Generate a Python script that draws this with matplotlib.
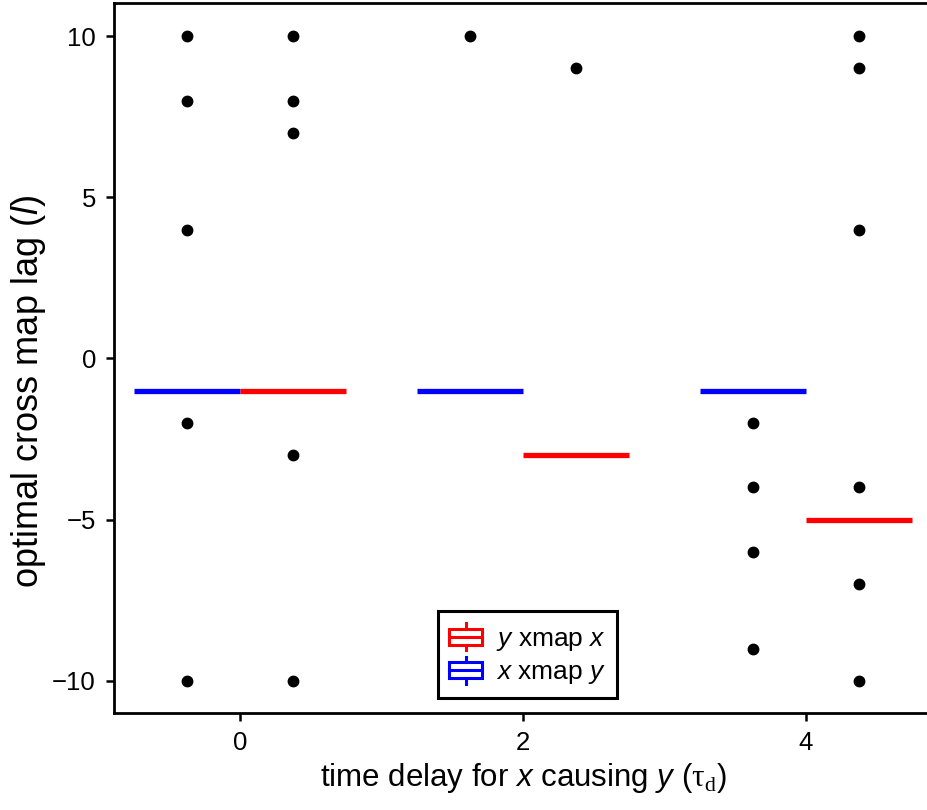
import matplotlib
matplotlib.use("Agg")
import matplotlib.pyplot as plt
from matplotlib.legend_handler import HandlerBase
from matplotlib.patches import Rectangle
from matplotlib.lines import Line2D

plt.rcParams['font.family'] = ['Liberation Sans', 'DejaVu Sans']
plt.rcParams['mathtext.fontset'] = 'custom'
plt.rcParams['mathtext.it'] = 'Liberation Sans:italic'
plt.rcParams['mathtext.rm'] = 'Liberation Serif'
plt.rcParams['mathtext.sf'] = 'Liberation Sans'

# data
taus = [0, 2, 4]
xy_median = [-1, -1, -1]          # x xmap y (blue)
yx_median = [-1, -3, -5]          # y xmap x (red)
xy_outliers = [[10, 8, 4, -2, -10], [10], [-2, -4, -6, -9]]
yx_outliers = [[10, 8, 7, -3, -10], [9], [10, 9, 4, -4, -7, -10]]

off = 0.375   # half a group slot
bw = 0.75     # box width


class BoxHandler(HandlerBase):  # little boxplot glyph for the legend
    def create_artists(self, legend, orig_handle, xdescent, ydescent,
                       width, height, fontsize, trans):
        c = orig_handle.get_color()
        x0, y0 = -xdescent, -ydescent
        cx, cy = x0 + width / 2, y0 + height / 2
        bh = height * 0.6
        r = Rectangle((x0, cy - bh / 2), width, bh, fill=False, ec=c, lw=2.2, transform=trans)
        m = Line2D([x0, x0 + width], [cy, cy], color=c, lw=2.2, transform=trans)
        w1 = Line2D([cx, cx], [cy + bh / 2, y0 + height], color=c, lw=2.2, transform=trans)
        w2 = Line2D([cx, cx], [cy - bh / 2, y0], color=c, lw=2.2, transform=trans)
        return [r, m, w1, w2]


fig = plt.figure(figsize=(9.28, 8.10), dpi=100)
ax = fig.add_axes([0.1228, 0.1198, 0.8814, 0.8765])

for i, t in enumerate(taus):
    xb, xr = t - off, t + off
    ax.hlines(xy_median[i], xb - bw / 2, xb + bw / 2, color='#0000ff', lw=3.8, zorder=3)
    ax.hlines(yx_median[i], xr - bw / 2, xr + bw / 2, color='#ff0000', lw=3.8, zorder=3)
    ax.plot([xb] * len(xy_outliers[i]), xy_outliers[i], 'o', color='black', ms=7.5, zorder=4)
    ax.plot([xr] * len(yx_outliers[i]), yx_outliers[i], 'o', color='black', ms=7.5, zorder=4)

ax.set_xlim(-0.89, 4.89)
ax.set_ylim(-11.0, 11.03)
ax.set_xticks(taus)
ax.set_yticks([-10, -5, 0, 5, 10])
ax.spines['right'].set_visible(False)
for s in ['left', 'top', 'bottom']:
    ax.spines[s].set_linewidth(2)
ax.tick_params(direction='out', length=6, width=1.8, labelsize=18.5, pad=7)

ax.set_xlabel(r"time delay for $\mathit{x}$ causing $\mathit{y}$ ($\mathrm{\tau}_\mathrm{d}$)",
              fontsize=22.5, labelpad=4)
fig.text(0.031, 0.517, r"optimal cross map lag ($\mathit{l}$)", fontsize=26,
         rotation=90, ha='center', va='center')

h_red = Line2D([], [], color='#ff0000')
h_blue = Line2D([], [], color='#0000ff')
leg = ax.legend([h_red, h_blue],
                [r"$\mathit{y}$ xmap $\mathit{x}$", r"$\mathit{x}$ xmap $\mathit{y}$"],
                handler_map={Line2D: BoxHandler()},
                loc='lower center', bbox_to_anchor=(0.5055, 0.021), borderaxespad=0,
                fontsize=19, frameon=True, fancybox=False, framealpha=1,
                edgecolor='black', handlelength=1.25, handleheight=1.2,
                handletextpad=0.5, labelspacing=0.15, borderpad=0.45)
leg.get_frame().set_linewidth(2.2)

fig.savefig('out.png', dpi=100)
